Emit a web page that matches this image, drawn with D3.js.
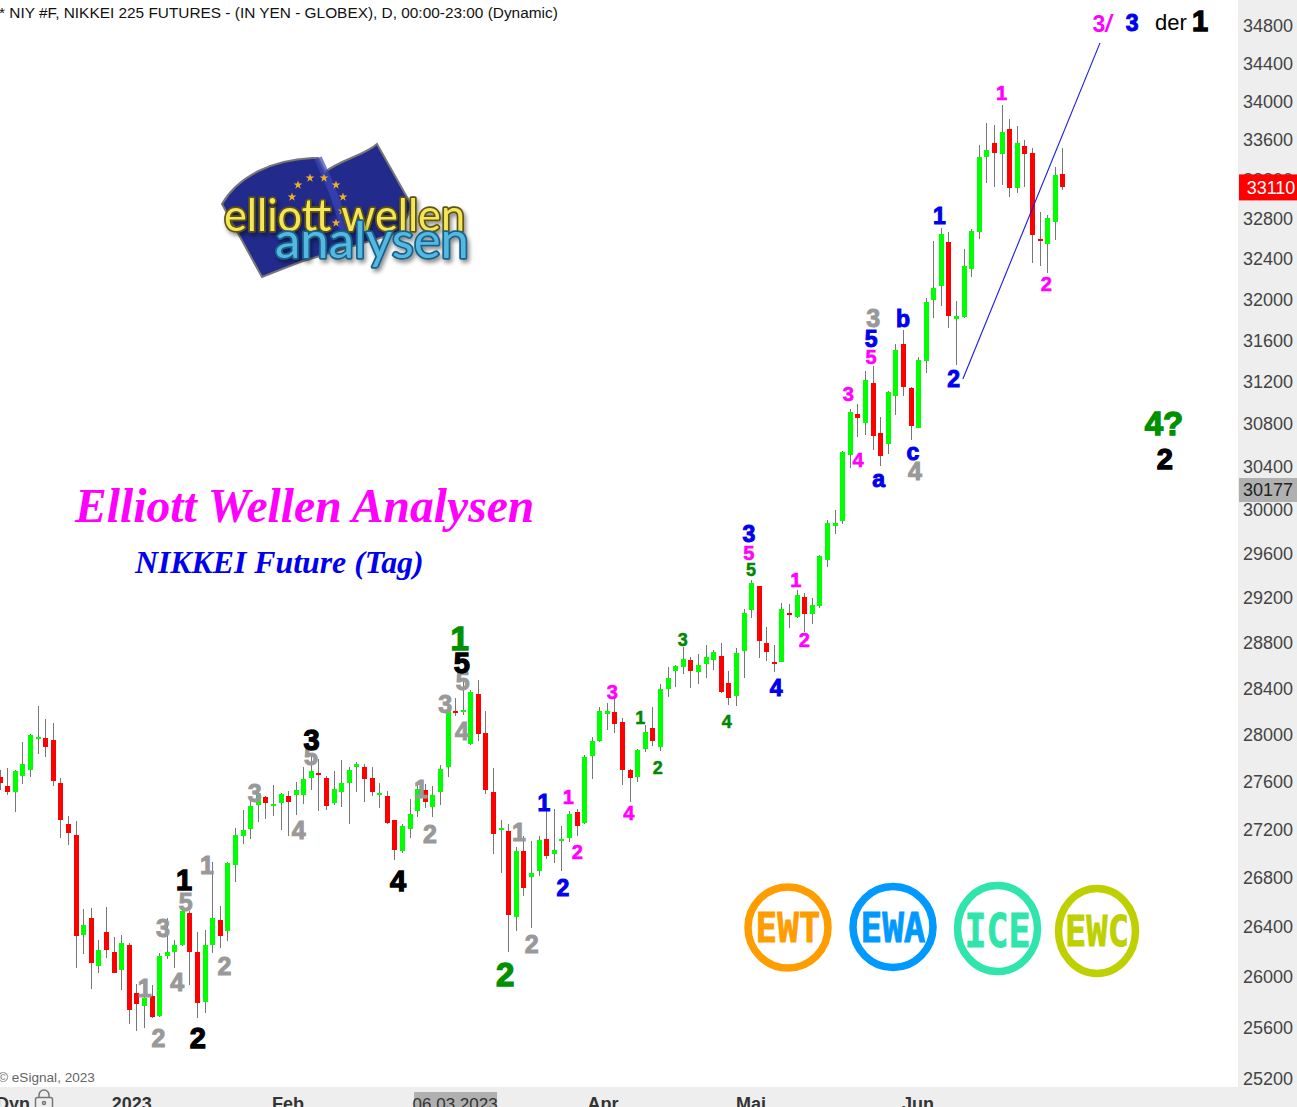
<!DOCTYPE html>
<html><head><meta charset="utf-8">
<script src="https://cdn.jsdelivr.net/npm/d3@7"></script>
<style>html,body{margin:0;padding:0;background:#fff;overflow:hidden}svg{display:block}text{font-family:"Liberation Sans",Arial,sans-serif}</style>
</head><body><svg id="c" width="1297" height="1107"></svg>
<script>
const highs=[27695,27712,27695,27934,28002,28244,28131,28096,27627,27307,27265,26539,26547,26288,26556,26313,26329,26264,25936,25904,25928,26184,26466,26288,26531,26523,26353,26369,26925,26564,26925,27206,27357,27458,27551,27475,27568,27500,27517,27593,27720,27823,27789,27644,27686,27780,27720,27763,27746,27720,27585,27517,27273,27239,27450,27568,27576,27559,27737,28209,28313,28470,28383,28470,28200,27712,27273,27239,27049,27140,27098,27140,27366,27366,27223,27349,27366,27823,27977,28235,28270,28322,28140,27703,27874,28079,28235,28435,28583,28601,28759,28671,28698,28777,28733,28795,28548,28750,29096,29355,29302,28935,28777,29150,29141,29266,29239,29194,29582,29901,29993,30541,30936,30984,31298,31346,30860,31107,31558,31694,31145,31433,32007,32571,32700,32660,31977,32491,32690,33544,33771,33750,33958,33813,33740,33596,33514,32862,32831,33318,33514];
const lows=[27525,27484,27340,27576,27635,27831,27806,27559,27123,27065,26063,26176,25896,26023,26144,26023,25888,25620,25565,25589,25667,25675,26136,26063,26240,25928,25667,25707,26184,26224,26280,26760,27074,27115,27256,27282,27307,27190,27140,27315,27408,27526,27349,27357,27399,27383,27239,27509,27425,27475,27374,27239,26941,27000,27123,27299,27374,27299,27399,27635,28157,28166,27908,27942,27492,26991,26834,26192,26361,26646,26385,26809,26949,26916,26850,27090,27140,27239,27618,27934,28036,28011,27568,27425,27593,27848,27900,27857,28322,28409,28522,28400,28435,28487,28557,28357,28252,28244,28487,29016,28663,28636,28539,28627,28927,29016,28891,28962,29105,29473,29773,29864,30381,30672,30690,30550,30400,30513,30879,31059,30644,30756,31278,31811,31928,31713,31355,31811,32212,32591,33155,33115,33135,33014,33054,33115,32351,32322,32252,32581,33085];
const opens=[27635,27559,27509,27644,27695,27959,27968,27951,27585,27239,27148,26329,26466,26079,26353,26192,26047,26248,25865,25762,25841,25683,26160,26192,26248,26507,26192,25794,26248,26450,26361,26900,27140,27198,27399,27467,27391,27416,27475,27484,27484,27627,27669,27627,27416,27509,27585,27720,27720,27627,27484,27475,27273,27016,27198,27349,27526,27383,27509,27720,28200,28192,27917,28348,28011,27509,27190,27181,26474,27016,26801,26850,27115,26991,27098,27123,27341,27248,27814,27942,28174,28192,28105,27695,27635,27874,28053,27891,28391,28548,28583,28645,28539,28610,28645,28680,28444,28331,28724,29087,29302,28795,28627,28627,29060,29025,29203,29051,29123,29537,29846,29892,30503,30889,30803,31183,30709,30606,31059,31558,31136,30756,31394,31987,32124,32561,31801,31820,32292,32660,33421,33565,33452,33709,33105,33534,33462,32591,32541,32760,33246];
const closes=[27585,27509,27686,27746,27994,27977,27891,27601,27273,27165,26321,26409,26104,26208,26208,26023,26264,25731,25778,25825,25675,26160,26192,26248,26523,26192,25786,26248,26466,26321,26916,27148,27190,27391,27500,27416,27408,27492,27425,27526,27618,27686,27652,27391,27534,27585,27695,27746,27618,27509,27500,27248,27024,27223,27324,27534,27425,27484,27703,28200,28183,28209,28365,28002,27526,27156,27206,26490,27016,26711,26834,27107,26974,27024,27115,27324,27223,27806,27942,28200,28200,28088,27695,27627,27865,28019,27942,28391,28487,28592,28654,28548,28601,28671,28715,28365,28313,28706,29060,29328,28812,28715,28610,29096,29042,29221,29051,29132,29573,29873,29873,30531,30908,30851,31212,30681,30494,31097,31501,31145,30775,31404,31967,32105,32640,31830,31830,32322,32670,33421,33493,33462,33678,33105,33565,33452,32630,32571,32801,33236,33110];

const priceTicks=[34800,34400,34000,33600,33200,32800,32400,32000,31600,31200,30800,30400,30000,29600,29200,28800,28400,28000,27600,27200,26800,26400,26000,25600,25200];
const timeLabels=["2023","Feb","06.03.2023","Apr","Mai","Jun"];
const timeSlots=[17.4,38,60,79.5,99,121];
const lastPrice=33110, markerPrice=30177;

// wave labels: text, candle slot, price
const greyLabels=[["1",19.1,25904],["2",20.9,25511],["3",21.5,26385],["4",23.4,25952],["5",24.5,26596],["1",27.3,26900],["2",29.6,26079],["3",33.6,27500],["4",39.4,27190],["5",41,27814],["1",55.5,27534],["2",56.7,27156],["3",58.7,28261],["4",60.9,28028],["5",61,28461],["1",68.4,27173],["2",70.1,26256],["3",115.1,31811],["4",120.6,30353]];
const blackLabels=[["1",24.3,26784],["2",26.1,25518],["3",41.1,27951],["4",52.5,26776],["5",60.9,28619],["2",153.5,30466]];
const greenBigLabels=[["1",60.6,28839],["2",66.6,26015],["4?",153.4,30803]];
const greenSmallLabels=[["1",84.4,28148],["2",86.7,27720],["3",90,28821],["4",95.8,28114],["5",99,29446]];
const blueLabels=[["1",71.7,27416],["2",74.2,26711],["3",98.7,29773],["4",102.3,28400],["5",114.8,31607],["a",115.8,30279],["b",119,31801],["c",120.3,30531],["1",123.8,32821],["2",125.7,31221],["3",149.2,34821]];
const magentaLabels=[["1",74.9,27467],["2",76.1,27008],["3",80.7,28365],["4",82.9,27332],["5",98.7,29600],["1",104.9,29355],["2",106,28821],["3",111.8,31078],["4",113.1,30456],["5",114.8,31433],["1",132,34083],["2",137.9,32144]];
const trendSlots=[126.9,144.97], trendPrices=[31221,34610];

const svg=d3.select("#c");
const x=d3.scaleLinear().domain([1,140]).range([7.3,1062.3]);
const y=d3.scaleLog().domain([25200,34800]).range([1078,25]);

// panels
svg.append("rect").attr("x",1238).attr("y",0).attr("width",59).attr("height",1107).attr("fill","#eeeeee");
svg.append("rect").attr("x",0).attr("y",1087).attr("width",1297).attr("height",20).attr("fill","#eeeeee");

// candles
const idx=d3.range(highs.length);
const g=svg.append("g").attr("shape-rendering","crispEdges");
g.selectAll("line").data(idx).join("line")
 .attr("x1",i=>Math.round(x(i))+.5).attr("x2",i=>Math.round(x(i))+.5)
 .attr("y1",i=>y(highs[i])).attr("y2",i=>y(lows[i])).attr("stroke","#777");
g.selectAll("rect").data(idx).join("rect")
 .attr("x",i=>Math.round(x(i))-2).attr("width",5)
 .attr("y",i=>y(Math.max(opens[i],closes[i])))
 .attr("height",i=>Math.max(2,y(Math.min(opens[i],closes[i]))-y(Math.max(opens[i],closes[i]))))
 .attr("fill",i=>closes[i]>=opens[i]?"#00ff00":"#ff0000");

// trend line
svg.append("line").attr("x1",x(trendSlots[0])).attr("y1",y(trendPrices[0])).attr("x2",x(trendSlots[1])).attr("y2",y(trendPrices[1])).attr("stroke","#1a1ae6").attr("stroke-width",1.1);

// y axis
const axisY=svg.append("g").attr("transform","translate(1243,0)").call(d3.axisRight(y).tickValues(priceTicks).tickSize(0).tickPadding(0).tickFormat(d3.format("d")));
axisY.select(".domain").remove();
axisY.selectAll("text").attr("fill","#444").attr("font-size",18).attr("font-family",'"Liberation Sans",Arial,sans-serif').attr("dy","0.36em");

function tag(price,bg,fg,h,cx){
 svg.append("rect").attr("x",1239).attr("y",y(price)-h/2).attr("width",58).attr("height",h).attr("fill",bg);
 svg.append("text").attr("x",cx).attr("y",y(price)).attr("dy","0.36em").attr("text-anchor","middle").attr("font-size",18).attr("fill",fg).text(price);
}
tag(lastPrice,"#ff0000","#fff",26,1271);
tag(markerPrice,"#b0b0b0","#222",24,1268);

// x axis labels
const axisG=svg.append("g");
timeLabels.forEach((t,i)=>{
 const isDate=t.includes(".");
 if(isDate) axisG.append("rect").attr("x",x(timeSlots[i])-41).attr("y",1092).attr("width",83).attr("height",15).attr("fill","#b0b0b0");
 axisG.append("text").attr("x",x(timeSlots[i])).attr("y",1110).attr("text-anchor","middle").attr("font-size",isDate?17:18).attr("font-weight",isDate?"normal":"bold").attr("fill","#333").text(t);
});
svg.append("text").attr("x",-4).attr("y",1110).attr("font-size",18).attr("font-weight","bold").attr("fill","#333").text("Dyn");
const lock=svg.append("g").attr("fill","none").attr("stroke","#777").attr("stroke-width",1.5);
lock.append("rect").attr("x",35.5).attr("y",1097.5).attr("width",17).attr("height",12).attr("rx",2);
lock.append("path").attr("d","M39,1097 v-2 a5,5 0 0 1 10,0 v2");
lock.append("circle").attr("cx",44).attr("cy",1103).attr("r",1.5);

// header & footer text
svg.append("text").attr("x",-1).attr("y",18).attr("font-size",15.4).attr("fill","#111").text("* NIY #F, NIKKEI 225 FUTURES - (IN YEN - GLOBEX), D, 00:00-23:00 (Dynamic)");
svg.append("text").attr("x",-2).attr("y",1082).attr("font-size",13.6).attr("fill","#666").text("© eSignal, 2023");

// titles
svg.append("text").attr("x",75).attr("y",522).attr("style",'font-family:"Liberation Serif",serif').attr("font-size",47.6).attr("font-weight","bold").attr("font-style","italic").attr("fill","#ff00ff").text("Elliott Wellen Analysen");
svg.append("text").attr("x",135).attr("y",573).attr("style",'font-family:"Liberation Serif",serif').attr("font-size",31.8).attr("font-weight","bold").attr("font-style","italic").attr("fill","#0000ee").text("NIKKEI Future (Tag)");

// wave labels
function labels(arr,color,size,sw){
 svg.append("g").selectAll("text").data(arr).join("text")
  .attr("x",d=>x(d[1])).attr("y",d=>y(d[2])).attr("dy","0.36em").attr("text-anchor","middle")
  .attr("font-weight","bold").attr("font-size",size).attr("fill",color)
  .attr("stroke",color).attr("stroke-width",sw).text(d=>d[0]);
}
labels(greyLabels,"#999999",25,1);
labels(blackLabels,"#000000",29,1.3);
labels(greenBigLabels,"#009000",33,1.4);
labels(greenSmallLabels,"#008800",18,.5);
labels(blueLabels,"#0000ee",23,1);
labels(magentaLabels,"#ff00ff",20,.6);
const wave3=svg.append("text").attr("x",1102).attr("y",32).attr("text-anchor","middle").attr("font-size",23).attr("font-weight","bold").attr("fill","#ff00ff");
wave3.append("tspan").text("3");
wave3.append("tspan").attr("font-style","italic").text("/");
svg.append("text").attr("x",1155).attr("y",30).attr("font-size",22).attr("fill","#000").text("der");
svg.append("text").attr("x",1200).attr("y",31).attr("text-anchor","middle").attr("font-size",29).attr("font-weight","bold").attr("fill","#000").attr("stroke","#000").attr("stroke-width",1.3).text("1");

// logo
const defs=svg.append("defs");
const blur=defs.append("filter").attr("id","sh").attr("x","-10%").attr("y","-10%").attr("width","125%").attr("height","130%");
blur.append("feDropShadow").attr("dx",2).attr("dy",3).attr("stdDeviation",2).attr("flood-color","#000").attr("flood-opacity",.45);
const logo=svg.append("g");
logo.append("path").attr("d","M222,204 C238,176 272,160 312,158 L318,158 L325,172 C340,160 365,155 377,144 L412,206 L400,232 L300,262 L262,277 Z").attr("fill","#222a8c").attr("stroke","#777").attr("stroke-width",2);
logo.append("path").attr("d","M318,158 C330,185 340,205 345,235").attr("fill","none").attr("stroke","#3a46b8").attr("stroke-width",8).attr("opacity",.7);
[[298,185],[310,178],[324,178],[336,185],[343,197],[342,211],[336,223],[292,197]].forEach(p=>{
 logo.append("path").attr("d",d3.symbol(d3.symbolStar,24)()).attr("transform",`translate(${p[0]},${p[1]})`).attr("fill","#f0b020");
});
logo.append("text").attr("x",224).attr("y",231).attr("filter","url(#sh)").attr("style",'font-family:"Lato",sans-serif;paint-order:stroke;stroke-linejoin:round').attr("font-size",44).attr("textLength",241).attr("lengthAdjust","spacingAndGlyphs").attr("fill","#f4e65a").attr("stroke","#5e5410").attr("stroke-width",3.5).text("elliott wellen");
logo.append("text").attr("x",275).attr("y",258).attr("filter","url(#sh)").attr("style",'font-family:"Lato",sans-serif;paint-order:stroke;stroke-linejoin:round').attr("font-size",50).attr("textLength",194).attr("lengthAdjust","spacingAndGlyphs").attr("fill","#55b8e0").attr("stroke","#17628a").attr("stroke-width",3.5).text("analysen");

// round badges
const badgeNames=["EWT","EWA","ICE","EWC"];
const badgeColors=["#ff9c00","#0099ff","#30e5ac","#bfd000"];
const badgeX=[788,893,997.5,1097], badgeY=[927.5,927,928.5,931], badgeRx=[40,40,40,38.5], badgeRy=[40.5,40.5,43,42.5];
const badgeSize=[40,40,46,42], badgeBase=[942,942,947,946], badgeW=[65,65,66,64];
badgeNames.forEach((n,i)=>{
 svg.append("ellipse").attr("cx",badgeX[i]).attr("cy",badgeY[i]).attr("rx",badgeRx[i]).attr("ry",badgeRy[i]).attr("fill","none").attr("stroke",badgeColors[i]).attr("stroke-width",7.5);
 svg.append("text").attr("x",badgeX[i]-badgeW[i]/2).attr("y",badgeBase[i]).attr("style",'font-family:"DejaVu Sans Mono",monospace').attr("font-size",badgeSize[i]).attr("font-weight","bold").attr("textLength",badgeW[i]).attr("lengthAdjust","spacingAndGlyphs").attr("fill",badgeColors[i]).attr("stroke",badgeColors[i]).attr("stroke-width",.8).text(n);
});
</script></body></html>
